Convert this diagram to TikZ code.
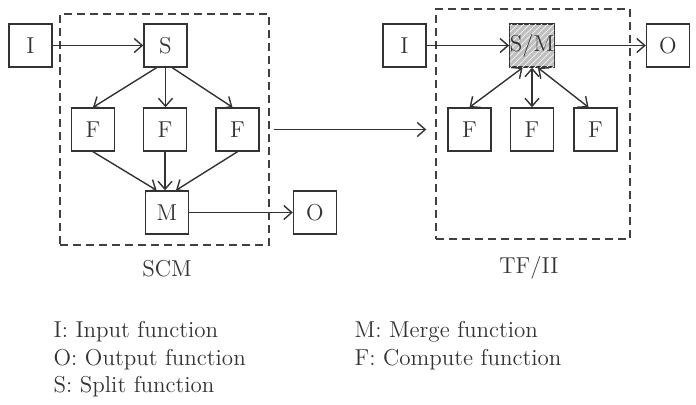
\documentclass[tikz,border=0pt]{standalone}
\usepackage{tikz}
\usetikzlibrary{positioning, calc, arrows.meta, patterns}

\begin{document}
\begin{tikzpicture}[x=0.5pt, y=-0.5pt, line width=0.7pt,
    font=\fontsize{11.5}{14}\selectfont,
    >={Straight Barb[length=4pt, width=7pt]},
    fbox/.style={draw=black!80, minimum width=21.5pt, minimum height=21.5pt, inner sep=0pt, text=black!80},
    group/.style={draw=black!75, dash pattern=on 4pt off 2.5pt},
    link/.style={->, draw=black!80},
    legend/.style={anchor=base west, inner sep=0pt, text=black!80}]
    % Frame
    \useasboundingbox (0,0) rectangle (696,404);

    % SCM group
    \node[group, minimum width=104.5pt, minimum height=115.5pt] (scm) at (164.5,129.5) {};
    \node[fbox] (I1) at (30.5,45.5) {I};
    \node[fbox] (S) at (165.5,45.5) {S};
    \node[fbox] (F1) at (93,129.5) {F};
    \node[fbox] (F2) at (165,129.5) {F};
    \node[fbox] (F3) at (237.5,129.5) {F};
    \node[fbox] (M) at (167,212.5) {M};
    \node[fbox] (O1) at (315,212.5) {O};
    \node[text=black!80] (scmlabel) at (167,269) {SCM};

    % SCM connectors
    \draw[link] (I1) -- (S);
    \draw[link] (S.248) -- (F1.north);
    \draw[link] (S.south) -- (S.south |- F2.north);
    \draw[link] (S.287) -- ([xshift=-2.5pt]F3.north);
    \draw[link] (F1.south) -- (M.115);
    \draw[link] (F2.south) -- (F2.south |- M.north);
    \draw[link] (F3.south) -- (M.68);
    \draw[link] (M) -- (O1);

    % TF/II group
    \node[group, minimum width=97pt, minimum height=115pt] (tf) at (533,124) {};
    \node[fbox] (I2) at (404.5,45.5) {I};
    \node[fbox, fill=gray!50, postaction={pattern=north east lines, pattern color=white!85!gray}] (SM) at (532,45.5) {S/M};
    \node[fbox] (O2) at (668,45.5) {O};
    \node[fbox] (G1) at (469.5,129.5) {F};
    \node[fbox] (G2) at (532,129.5) {F};
    \node[fbox] (G3) at (595.5,129.5) {F};
    \node[text=black!80] (tflabel) at (529,268) {TF/II};

    % TF/II connectors
    \draw[link] (I2) -- (SM);
    \draw[link] (SM) -- (O2);
    \draw[link, <->] (SM.247) -- (G1.north);
    \draw[link, <->] (SM.south) -- (G2.north);
    \draw[link, <->] (SM.285) -- ([xshift=-3.5pt]G3.north);

    % Transformation arrow
    \draw[link] ([xshift=2pt]scm.east) -- ([xshift=-4.5pt]tf.west |- scm.east);

    % Legend
    \node[legend] (lgI) at (53,337) {I: Input function};
    \node[legend] (lgO) at (53,365) {O: Output function};
    \node[legend] (lgS) at (53,392) {S: Split function};
    \node[legend] (lgM) at (354,337) {M: Merge function};
    \node[legend] (lgF) at (354,365) {F: Compute function};
\end{tikzpicture}
\end{document}
